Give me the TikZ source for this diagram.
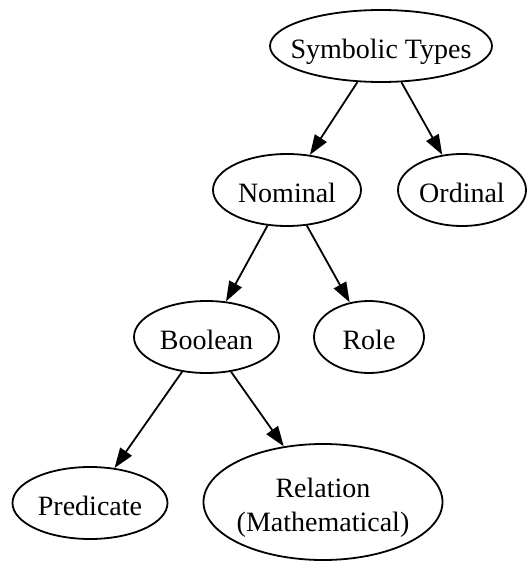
\documentclass[tikz,border=0pt]{standalone}
\usepackage{fontspec}
\setmainfont{Liberation Serif}
\usetikzlibrary{positioning,shapes,arrows.meta}
% text of zero size, so the ellipse takes its size from minimum width/height
\newcommand{\typename}[1]{\makebox[0pt]{\smash{\raisebox{-6.5pt}{\begin{tabular}{@{}c@{}}#1\end{tabular}}}}}

\begin{document}
\begin{tikzpicture}[x=0.5pt,y=-0.5pt,
  every node/.style={font=\fontsize{14}{17}\selectfont},
  typ/.style={draw,ellipse,line width=0.9pt,inner sep=0pt,minimum height=36pt},
  edge/.style={-{Triangle[length=10pt,width=7pt]},line width=0.9pt}]
  \useasboundingbox (0,0) rectangle (526,561);
  % the types
  \node[typ,minimum width=111pt] (sym) at (381,46) {\typename{Symbolic Types}};
  \node[typ,minimum width=74pt] (nom) at (287,190) {\typename{Nominal}};
  \node[typ,minimum width=64pt] (ord) at (462,190) {\typename{Ordinal}};
  \node[typ,minimum width=72.5pt] (bool) at (206.5,337) {\typename{Boolean}};
  \node[typ,minimum width=55pt] (role) at (369,337) {\typename{Role}};
  \node[typ,minimum width=77.5pt] (pred) at (90,503) {\typename{Predicate}};
  \node[typ,minimum width=119.5pt,minimum height=58pt] (rel) at (323,502) {\typename{Relation\\(Mathematical)}};
  % the edges
  \draw[edge] (sym) -- (nom);
  \draw[edge] (sym) -- (ord);
  \draw[edge] (nom) -- (bool);
  \draw[edge] (nom) -- (role);
  \draw[edge] (bool) -- (pred);
  \draw[edge] (bool) -- (rel);
\end{tikzpicture}
\end{document}
